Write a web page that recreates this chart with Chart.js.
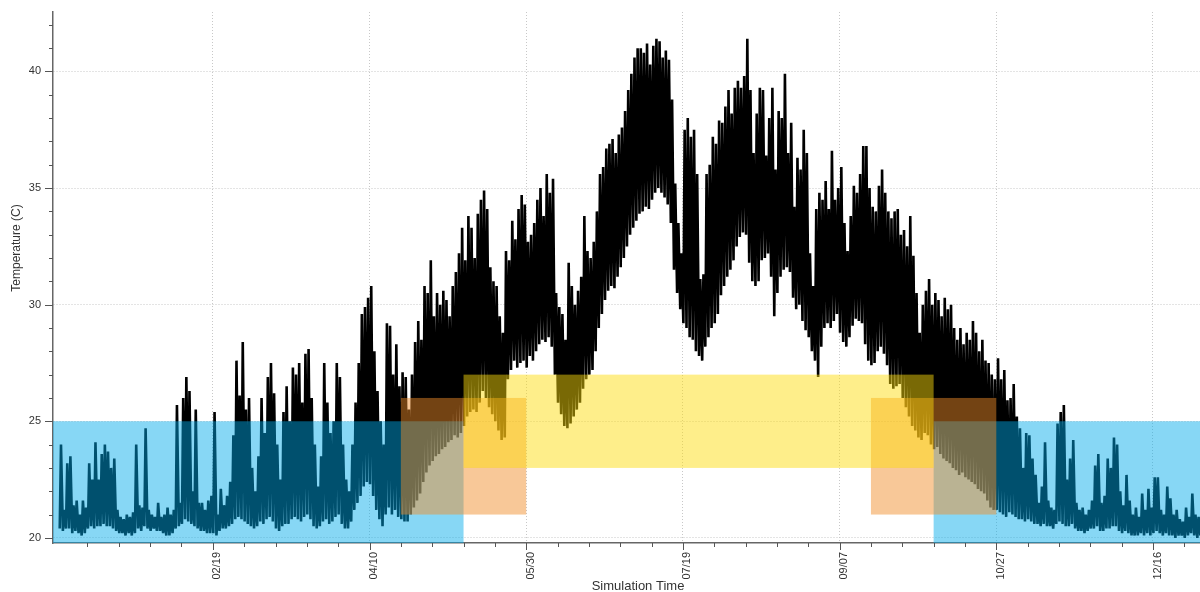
<!DOCTYPE html>
<html>
<head>
<meta charset="utf-8">
<script src="https://cdn.jsdelivr.net/npm/chart.js@4.4.0/dist/chart.umd.min.js"></script>
<style>
  html, body { margin: 0; padding: 0; background: #ffffff; }
  #wrap { width: 1200px; height: 592px; position: relative; }
</style>
</head>
<body>
<div id="wrap"><canvas id="chart"></canvas></div>
<script>
// Daily maximum zone temperature (C), Jan 1 .. Dec 31
const dailyMax = [
  24.0, 21.2, 23.2, 23.5, 21.4, 21.6, 21.0, 21.6, 21.3, 23.2,
  22.5, 24.1, 22.5, 23.6, 24.0, 23.7, 23.0, 23.4, 21.2, 20.9,
  20.8, 21.0, 20.9, 21.1, 24.0, 21.4, 21.3, 24.7, 21.2, 21.0,
  20.9, 21.5, 20.9, 21.0, 21.3, 21.0, 21.2, 25.7, 21.5, 26.0,
  26.9, 26.3, 22.0, 25.5, 21.5, 21.5, 21.2, 21.6, 21.8, 25.4,
  21.0, 22.1, 21.4, 21.8, 22.4, 24.4, 27.6, 26.1, 28.4, 25.5,
  26.0, 23.0, 22.0, 23.5, 26.0, 24.5, 26.9, 27.5, 26.2, 24.0,
  22.5, 25.4, 26.5, 25.0, 27.3, 27.0, 27.5, 25.8, 27.9, 28.1,
  26.0, 24.0, 22.2, 23.5, 27.5, 25.8, 24.5, 25.0, 27.5, 26.9,
  24.0, 22.5, 22.0, 24.0, 25.8, 27.5, 29.6, 29.9, 30.3, 30.8,
  28.0, 26.3, 25.0, 24.0, 29.2, 29.1, 27.0, 28.3, 26.5, 27.1,
  26.9, 25.5, 27.0, 28.4, 29.3, 28.5, 30.8, 30.5, 31.9, 29.5,
  30.5, 30.0, 30.6, 30.2, 29.5, 30.8, 31.4, 32.2, 33.3, 31.9,
  33.8, 33.3, 32.0, 33.9, 34.5, 34.9, 34.1, 31.6, 31.0, 30.8,
  29.5, 28.8, 32.3, 31.9, 33.6, 32.8, 34.1, 34.7, 34.3, 32.7,
  33.0, 33.5, 34.5, 35.0, 33.8, 35.6, 34.8, 35.4, 30.5, 29.9,
  29.6, 28.5, 31.8, 30.8, 30.0, 30.6, 31.2, 33.8, 32.3, 32.0,
  32.7, 34.0, 35.6, 35.9, 36.7, 36.9, 37.1, 36.5, 37.3, 37.6,
  38.3, 39.2, 39.9, 40.6, 41.0, 41.0, 40.8, 41.2, 40.3, 41.1,
  41.4, 41.3, 40.6, 40.9, 40.5, 38.8, 35.2, 33.5, 32.2, 37.5,
  38.0, 37.2, 37.5, 35.6, 31.1, 31.3, 35.6, 36.0, 37.2, 36.9,
  37.9, 37.8, 38.5, 39.2, 38.2, 39.3, 39.6, 39.3, 39.8, 41.4,
  39.2, 36.5, 38.2, 39.3, 39.2, 36.4, 38.0, 39.3, 35.8, 38.3,
  38.0, 39.9, 36.5, 37.8, 34.2, 36.3, 35.8, 37.5, 36.5, 32.2,
  30.8, 34.1, 34.8, 34.5, 35.3, 34.1, 36.6, 34.5, 35.0, 35.9,
  33.5, 32.3, 33.8, 35.1, 34.8, 35.6, 36.8, 36.8, 35.0, 34.2,
  34.0, 35.1, 35.8, 34.8, 34.0, 33.7, 34.0, 34.1, 33.0, 33.2,
  32.5, 33.8, 32.1, 30.5, 28.8, 30.0, 30.6, 31.1, 30.0, 30.5,
  30.2, 29.5, 30.3, 29.8, 30.0, 29.0, 28.5, 29.0, 28.3, 28.8,
  28.5, 29.3, 28.8, 28.0, 28.5, 27.6, 27.5, 27.0, 26.8, 27.7,
  26.8, 27.2, 25.9, 26.0, 26.6, 25.2, 24.7, 23.0, 24.5, 24.4,
  23.4, 22.7, 21.5, 22.2, 24.1, 21.6, 21.3, 21.2, 24.9, 25.4,
  25.7, 22.5, 23.4, 24.2, 21.5, 21.2, 21.3, 21.0, 21.2, 21.6,
  23.1, 23.6, 21.5, 21.8, 23.4, 23.0, 24.3, 24.0, 22.0, 21.4,
  22.7, 21.6, 21.0, 21.3, 20.9, 21.9, 21.2, 22.1, 21.3, 22.6,
  22.6, 21.2, 21.0, 22.2, 21.7, 21.0, 21.2, 20.8, 20.7, 21.3,
  20.9, 21.9, 21.0, 20.9, 20.6
];

// Daily minimum zone temperature (C), Jan 1 .. Dec 31
const dailyMin = [
  20.4, 20.3, 20.4, 20.4, 20.2, 20.3, 20.2, 20.1, 20.2, 20.4,
  20.5, 20.4, 20.5, 20.5, 20.6, 20.5, 20.5, 20.4, 20.3, 20.2,
  20.2, 20.1, 20.2, 20.1, 20.2, 20.4, 20.3, 20.5, 20.4, 20.3,
  20.4, 20.3, 20.3, 20.2, 20.1, 20.1, 20.2, 20.4, 20.5, 20.6,
  20.8, 20.7, 20.6, 20.5, 20.4, 20.3, 20.3, 20.2, 20.2, 20.2,
  20.1, 20.3, 20.4, 20.4, 20.5, 20.6, 20.8, 20.9, 20.8, 20.7,
  20.6, 20.5, 20.4, 20.5, 20.7, 20.6, 20.8, 20.9, 20.7, 20.4,
  20.3, 20.5, 20.6, 20.6, 20.8, 20.9, 20.8, 20.7, 20.9, 21.0,
  20.8, 20.5, 20.4, 20.5, 20.7, 20.8, 20.6, 20.7, 20.9, 21.0,
  20.6, 20.4, 20.4, 20.7, 21.2, 21.5, 21.8, 22.2, 22.4, 22.3,
  21.8, 21.2, 20.8, 20.5, 21.0, 21.3, 21.0, 21.2, 20.9, 20.8,
  20.7, 20.7, 21.0, 21.3, 21.6, 21.9, 22.4, 22.8, 23.1, 23.3,
  23.5, 23.6, 23.8, 23.9, 24.1, 24.2, 24.4, 24.3, 24.5, 24.8,
  25.2, 25.4, 25.5, 25.4, 25.8, 26.3, 26.0, 25.6, 25.3, 25.0,
  24.6, 24.2, 24.3, 26.8, 27.2, 27.6, 27.3, 27.5, 27.6, 27.3,
  27.8, 27.6, 28.0, 28.3, 28.5, 28.4, 28.6, 28.2, 27.0, 25.8,
  25.3, 24.8, 24.7, 24.9, 25.2, 25.5, 25.8, 26.4, 26.8, 27.0,
  27.2, 28.0, 29.0, 29.6, 30.2, 30.6, 30.8, 30.7, 31.2, 31.6,
  32.0, 32.5, 33.0, 33.3, 33.6, 33.9, 34.0, 34.2, 34.1, 34.5,
  34.8, 35.0, 34.8, 34.6, 34.3, 33.5, 31.5, 30.5, 29.8, 29.2,
  29.0, 28.6, 28.5, 28.0, 27.8, 27.6, 28.2, 28.6, 29.0, 29.2,
  29.6, 30.4, 30.8, 31.2, 31.5, 31.9, 32.5, 32.9, 33.1, 33.0,
  31.8, 31.0, 30.8, 31.0, 31.9, 32.0, 32.2, 31.2, 29.5, 30.5,
  31.2, 31.5, 31.6, 31.4, 30.3, 29.8, 30.0, 29.3, 28.9, 28.6,
  28.0, 27.6, 26.9, 28.2, 29.0, 29.2, 29.0, 29.3, 29.6, 28.8,
  28.4, 28.2, 28.6, 29.1, 29.4, 29.3, 29.2, 28.3, 27.6, 27.4,
  27.5, 28.0, 28.2, 27.9, 27.4, 26.6, 26.4, 26.5, 26.6, 26.0,
  25.6, 25.2, 24.8, 24.6, 24.3, 24.2, 24.5, 24.4, 24.0, 23.8,
  23.9, 23.6, 23.4, 23.3, 23.2, 23.0, 22.9, 22.7, 22.8, 22.6,
  22.5, 22.4, 22.3, 22.1, 22.0, 21.9, 21.6, 21.3, 21.2, 21.2,
  21.1, 21.0, 20.9, 21.1, 21.0, 20.9, 20.8, 20.8, 20.7, 20.8,
  20.7, 20.6, 20.6, 20.5, 20.6, 20.5, 20.5, 20.4, 20.6, 20.7,
  20.6, 20.5, 20.5, 20.6, 20.4, 20.3, 20.3, 20.2, 20.3, 20.4,
  20.4, 20.5, 20.3, 20.3, 20.4, 20.4, 20.5, 20.5, 20.3, 20.2,
  20.3, 20.2, 20.1, 20.1, 20.1, 20.2, 20.1, 20.2, 20.1, 20.2,
  20.3, 20.2, 20.1, 20.2, 20.1, 20.1, 20.0, 20.1, 20.1, 20.0,
  20.1, 20.2, 20.1, 20.0, 20.1
];

// Labelled date ticks (day of year) and their text
const tickDays   = [49, 99, 149, 199, 249, 299, 349];
const tickLabels = ['02/19', '04/10', '05/30', '07/19', '09/07', '10/27', '12/16'];
const minorTickDays = [9, 19, 29, 39, 49, 59, 69, 79, 89, 99, 109, 119, 129, 139, 149, 159, 169, 179,
  189, 199, 209, 219, 229, 239, 249, 259, 269, 279, 289, 299, 309, 319, 329, 339, 349, 359];
const tempTicks = [20, 21, 22, 23, 24, 25, 26, 27, 28, 29, 30, 31, 32, 33, 34, 35, 36, 37, 38, 39, 40, 41, 42];

// Comfort bands: [from day, to day] x [low C, high C]
const bandFrom  = [-2, 279, 109, 259, 129];
const bandTo    = [129, 364, 149, 299, 279];
const bandLow   = [19.78, 19.78, 21, 21, 23];
const bandHigh  = [25, 25, 26, 26, 27];
const bandColor = ['rgba(0,170,234,0.47)', 'rgba(0,170,234,0.47)',
                   'rgba(240,140,40,0.48)', 'rgba(240,140,40,0.48)',
                   'rgba(252,220,10,0.48)'];

// morning low, afternoon high for each day
const points = [];
for (let d = 0; d < dailyMax.length; d++) {
  points.push({ x: d + 0.15, y: dailyMin[d] });
  points.push({ x: d + 0.55, y: dailyMax[d] });
}

const FONT = '"Liberation Sans", Arial, sans-serif';

const bandsPlugin = {
  id: 'bands',
  afterDatasetsDraw(chart) {
    const { ctx, chartArea: a, scales: { x, y } } = chart;
    ctx.save();
    ctx.beginPath();
    ctx.rect(a.left, a.top, a.right - a.left, a.bottom - a.top);
    ctx.clip();
    for (let i = 0; i < bandFrom.length; i++) {
      const x0 = x.getPixelForValue(bandFrom[i]);
      const x1 = x.getPixelForValue(bandTo[i]);
      const y0 = y.getPixelForValue(bandHigh[i]);
      const y1 = y.getPixelForValue(bandLow[i]);
      ctx.fillStyle = bandColor[i];
      ctx.fillRect(x0, y0, x1 - x0, y1 - y0);
    }
    ctx.restore();
  }
};

const axisDecorPlugin = {
  id: 'axisDecor',
  afterDraw(chart) {
    const { ctx, chartArea: a, scales: { x, y } } = chart;
    ctx.save();
    ctx.strokeStyle = '#555';
    ctx.lineWidth = 1;
    // y tick marks
    tempTicks.forEach(v => {
      const py = Math.round(y.getPixelForValue(v)) + 0.5;
      const len = v % 5 === 0 ? 8 : 4;
      ctx.beginPath();
      ctx.moveTo(a.left - len, py);
      ctx.lineTo(a.left, py);
      ctx.stroke();
    });
    // x tick marks
    minorTickDays.forEach(v => {
      const px = Math.round(x.getPixelForValue(v)) + 0.5;
      const len = tickDays.includes(v) ? 7 : 4;
      ctx.beginPath();
      ctx.moveTo(px, a.bottom);
      ctx.lineTo(px, a.bottom + len);
      ctx.stroke();
    });
    // x tick labels (rotated)
    ctx.fillStyle = '#333';
    ctx.font = '11px ' + FONT;
    tickDays.forEach((v, i) => {
      const px = x.getPixelForValue(v);
      ctx.save();
      ctx.translate(px - 1, a.bottom + 9);
      ctx.rotate(-Math.PI / 2);
      ctx.textAlign = 'right';
      ctx.textBaseline = 'top';
      ctx.fillText(tickLabels[i], 0, 0);
      ctx.restore();
    });
    // axis titles
    ctx.fillStyle = '#333';
    ctx.font = '13px ' + FONT;
    ctx.textAlign = 'center';
    ctx.textBaseline = 'middle';
    ctx.fillText('Simulation Time', 638, 586);
    ctx.save();
    ctx.translate(17, 248);
    ctx.rotate(-Math.PI / 2);
    ctx.font = '12px ' + FONT;
    ctx.fillText('Temperature (C)', 0, 0);
    ctx.restore();
    ctx.restore();
  }
};

new Chart(document.getElementById('chart'), {
  type: 'line',
  data: {
    datasets: [{
      data: points,
      borderColor: '#000000',
      borderWidth: 2.6,
      borderJoinStyle: 'bevel',
      pointRadius: 0,
      tension: 0,
      fill: false
    }]
  },
  options: {
    responsive: true,
    maintainAspectRatio: false,
    animation: false,
    parsing: false,
    normalized: true,
    layout: { padding: { top: 12, right: 0, left: 0, bottom: 0 } },
    plugins: { legend: { display: false }, tooltip: { enabled: false } },
    scales: {
      x: {
        type: 'linear',
        min: -2,
        max: 364,
        afterBuildTicks: s => { s.ticks = minorTickDays.map(v => ({ value: v })); },
        afterFit: s => { s.height = 49; s.paddingLeft = 0; s.paddingRight = 0; },
        ticks: { display: false, autoSkip: false },
        grid: {
          drawTicks: false,
          lineWidth: 1,
          color: c => (c.tick && tickDays.includes(c.tick.value)) ? '#c8c8c8' : 'rgba(0,0,0,0)'
        },
        border: { display: true, color: '#666', width: 1.5, dash: [1, 2] }
      },
      y: {
        type: 'linear',
        min: 19.78,
        max: 42.55,
        afterBuildTicks: s => { s.ticks = tempTicks.map(v => ({ value: v })); },
        afterFit: s => { s.width = 53; s.paddingTop = 0; s.paddingBottom = 0; },
        ticks: {
          autoSkip: false,
          padding: 12,
          color: '#333',
          font: { family: FONT, size: 11 },
          callback: v => (v % 5 === 0 ? String(v) : '')
        },
        grid: {
          drawTicks: false,
          lineWidth: 1,
          color: c => (c.tick && c.tick.value % 5 === 0) ? '#c8c8c8' : 'rgba(0,0,0,0)'
        },
        border: { display: true, color: '#666', width: 1.5, dash: [1, 2] }
      }
    }
  },
  plugins: [bandsPlugin, axisDecorPlugin]
});
</script>
</body>
</html>
